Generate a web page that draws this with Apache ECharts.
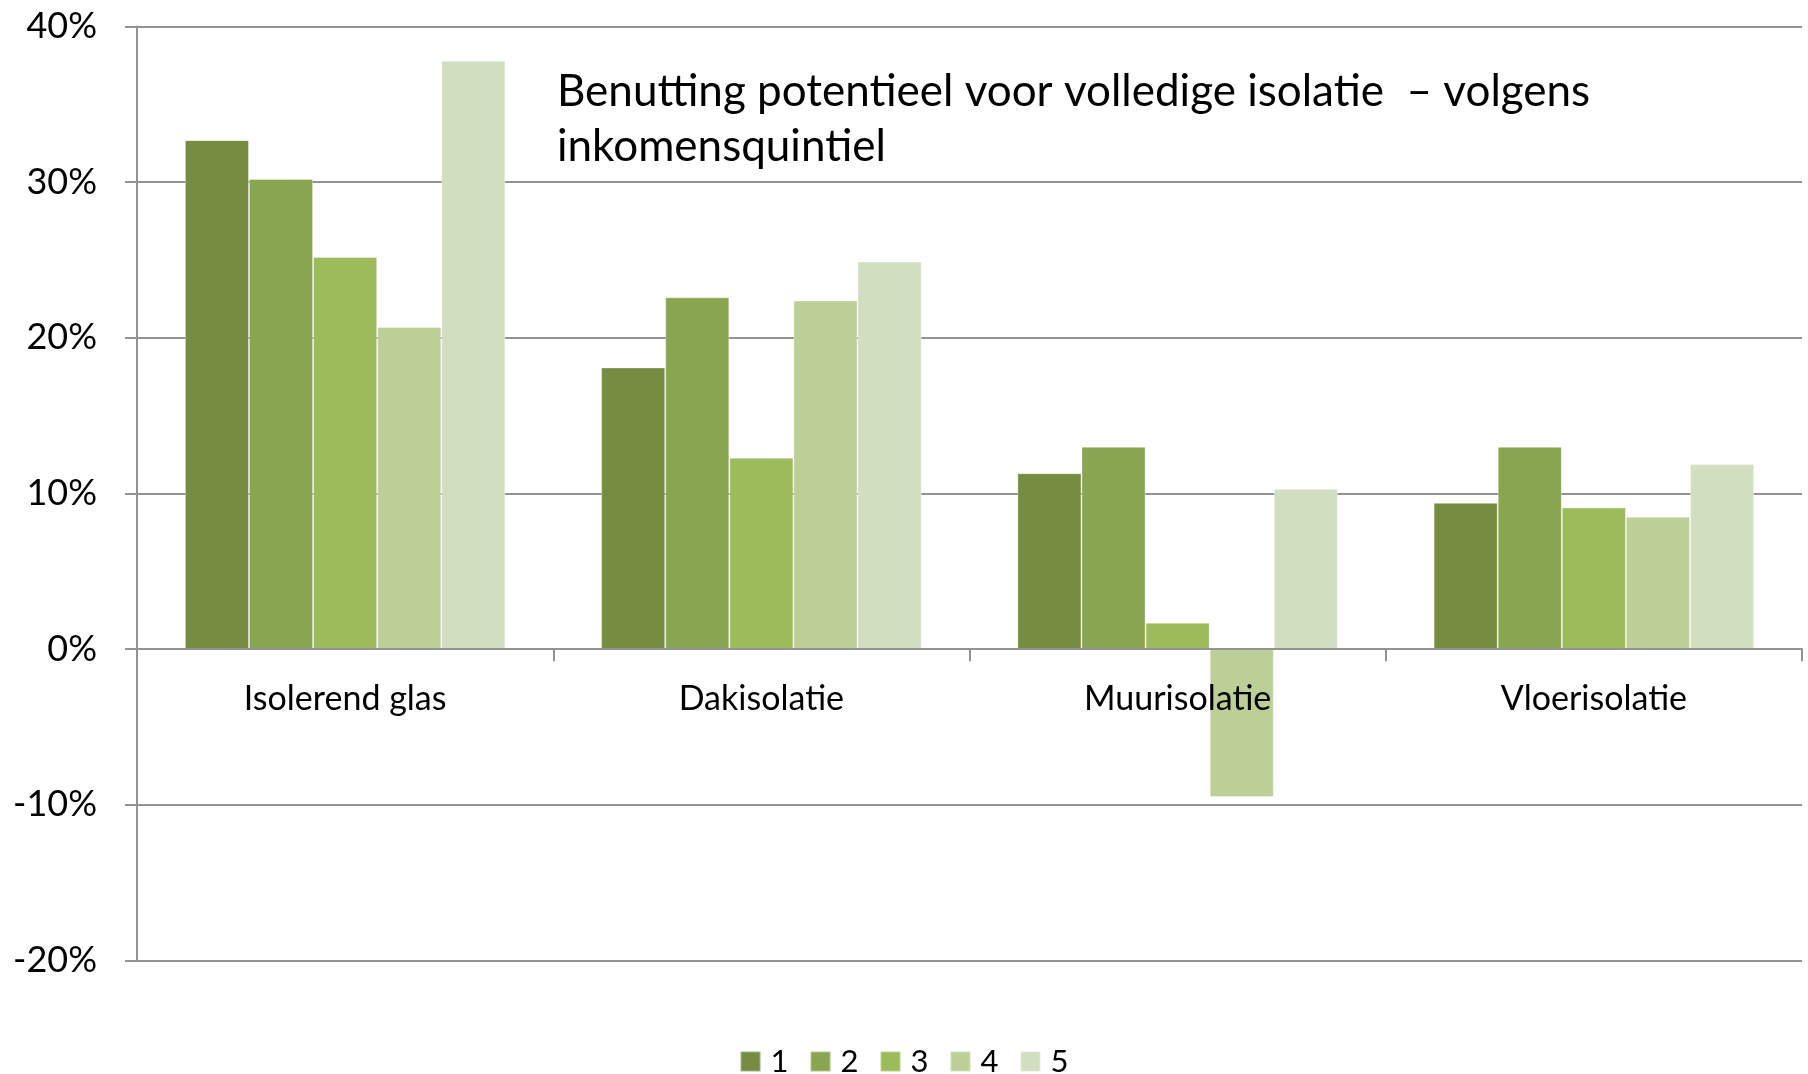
<!DOCTYPE html>
<html style="height: 100%">
<head>
<meta charset="utf-8">
</head>
<body style="height: 100%; margin: 0; background: #fff">
	<div id="container" style="width: 1808px; height: 1074px"></div>
	<script type="text/javascript"
		src="https://cdn.jsdelivr.net/npm/echarts@6/dist/echarts.min.js"></script>
	<script type="text/javascript">
		// categories en waarden (procent) per inkomensquintiel
		var categories = [ 'Isolerend glas', 'Dakisolatie', 'Muurisolatie', 'Vloerisolatie' ];
		var quintiles = [ '1', '2', '3', '4', '5' ];
		var q1 = [ 32.7, 18.1, 11.3, 9.4 ];
		var q2 = [ 30.2, 22.6, 13.0, 13.0 ];
		var q3 = [ 25.2, 12.3, 1.7, 9.1 ];
		var q4 = [ 20.7, 22.4, -9.5, 8.5 ];
		var q5 = [ 37.8, 24.9, 10.3, 11.9 ];
		var yTicks = [ -20, -10, 0, 10, 20, 30, 40 ];

		var colors = [ '#758c41', '#8aa54f', '#9cbb5a', '#bbcf97', '#d1dec0' ];
		var seriesData = [ q1, q2, q3, q4, q5 ];
		var gridColor = '#939393';
		var font = 'Lato';

		var dom = document.getElementById("container");
		var myChart = echarts.init(dom);

		var series = [];
		for (var i = 0; i < quintiles.length; i++) {
			series.push({
				name : quintiles[i],
				type : 'bar',
				barGap : 0,
				barCategoryGap : '23%',
				itemStyle : {
					color : colors[i],
					borderColor : 'rgba(255,255,255,0.35)',
					borderWidth : 1
				},
				data : seriesData[i]
			});
		}

		var option = {
			animation : false,
			color : colors,
			textStyle : {
				fontFamily : font
			},
			title : {
				text : 'Benutting potentieel voor volledige isolatie  \u2013 volgens\ninkomensquintiel',
				left : 557,
				top : 64,
				padding : 0,
				textStyle : {
					fontFamily : font,
					fontWeight : 'normal',
					fontSize : 44,
					lineHeight : 55,
					color : '#000'
				}
			},
			legend : {
				data : quintiles,
				left : 'center',
				top : 1046,
				padding : 0,
				icon : 'rect',
				itemWidth : 20,
				itemHeight : 20,
				itemGap : 21,
				textStyle : {
					fontFamily : font,
					fontSize : 31,
					color : '#000',
					padding : [ 0, 0, 0, 5 ]
				}
			},
			grid : {
				left : 137,
				right : 6,
				top : 26.5,
				bottom : 113.5
			},
			xAxis : {
				type : 'category',
				data : categories,
				z : 3,
				axisLine : {
					onZero : true,
					lineStyle : {
						color : gridColor,
						width : 2
					}
				},
				axisTick : {
					show : true,
					interval : 0,
					length : 12,
					lineStyle : {
						color : gridColor,
						width : 2
					}
				},
				axisLabel : {
					margin : -278,
					fontFamily : font,
					fontSize : 34,
					color : '#000'
				}
			},
			yAxis : {
				type : 'value',
				min : yTicks[0],
				max : yTicks[yTicks.length - 1],
				interval : 10,
				axisLine : {
					show : true,
					lineStyle : {
						color : gridColor,
						width : 2
					}
				},
				axisTick : {
					show : true,
					length : 12,
					lineStyle : {
						color : gridColor,
						width : 2
					}
				},
				splitLine : {
					show : true,
					lineStyle : {
						color : gridColor,
						width : 2
					}
				},
				axisLabel : {
					margin : 40,
					fontFamily : font,
					fontSize : 36,
					color : '#000',
					formatter : '{value}%'
				}
			},
			series : series
		};
		myChart.setOption(option);
	</script>
</body>
</html>
